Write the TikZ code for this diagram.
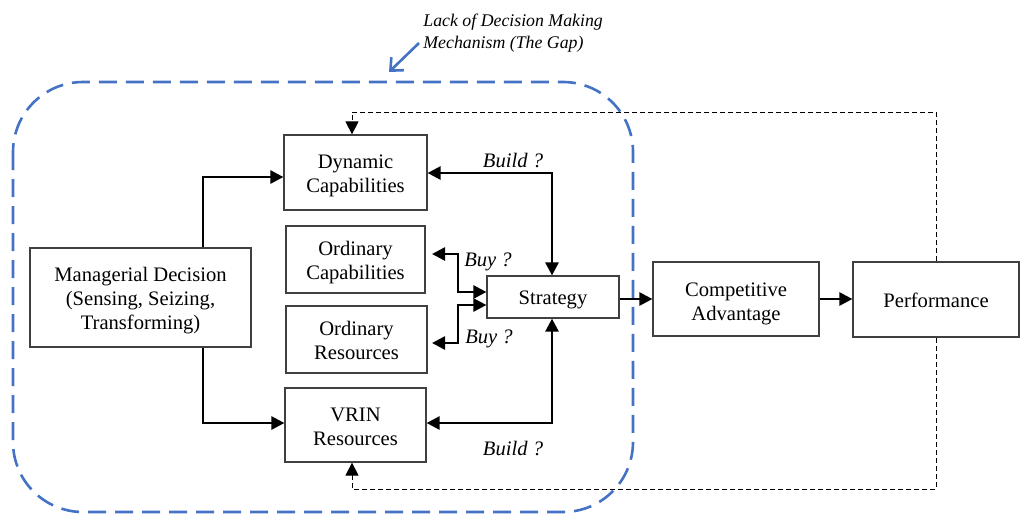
\documentclass[tikz,border=0pt]{standalone}
\usepackage{fontspec}
\setmainfont{Liberation Serif}
\usetikzlibrary{arrows.meta}
\definecolor{gapblue}{HTML}{4472C4}
\definecolor{boxgray}{HTML}{404040}
\newcommand\boxtext[2][1.5pt]{\raisebox{-#1}[\height][\depth]{\begin{tabular}{@{}c@{}}#2\end{tabular}}}
\begin{document}
\begin{tikzpicture}[x=0.5pt,y=-0.5pt,
 box/.style={draw=boxgray, line width=0.6pt, inner sep=0pt, font=\fontsize{10.3}{12}\selectfont},
 tip/.tip={Triangle[length=6.5pt,width=6.5pt]},
 conn/.style={line width=1.3pt, -tip},
 biconn/.style={line width=1.3pt, tip-tip},
 fb/.style={line width=0.5pt, dash pattern=on 2.5pt off 1.5pt, -{Triangle[length=6.5pt,width=6.5pt]}},
 lbl/.style={font=\fontsize{10.3}{12}\selectfont\itshape, inner sep=0pt},
 gaptxt/.style={font=\fontsize{8.9}{10.8}\selectfont\itshape, align=left, inner sep=0pt}]
\useasboundingbox (0,0) rectangle (1020,515);

% gap region
\draw[gapblue, line width=1.3pt, dash pattern=on 9pt off 4.5pt, rounded corners=35pt] (13,82) rectangle (633,512);
\node[gaptxt, anchor=west] (gaptext) at (423,33) {Lack of Decision Making\\Mechanism (The Gap)};
\coordinate (g1) at (419,43);
\coordinate (g2) at (389,72);
\draw[gapblue, line width=1.3pt, -{Straight Barb[length=5pt,width=9pt]}] (g1) -- (g2);

% boxes
\node[box, minimum width=110.5pt, minimum height=49.5pt] (mgr) at (140.5,297.5) {\boxtext{Managerial Decision\\(Sensing, Seizing,\\Transforming)}};
\node[box, minimum width=71.5pt, minimum height=37.5pt] (dyn) at (355.5,172.5) {\boxtext{Dynamic\\Capabilities}};
\node[box, minimum width=69.5pt, minimum height=33.5pt] (ocap) at (355.5,259.5) {\boxtext{Ordinary\\Capabilities}};
\node[box, minimum width=70.5pt, minimum height=33.5pt] (ores) at (356.5,339.5) {\boxtext[1.6pt]{Ordinary\\Resources}};
\node[box, minimum width=70.5pt, minimum height=37pt] (vrin) at (355.5,425) {\boxtext[1.75pt]{VRIN\\Resources}};
\node[box, minimum width=66pt, minimum height=21pt] (str) at (553,297) {\boxtext{Strategy}};
\node[box, minimum width=83pt, minimum height=37pt] (comp) at (736,299) {\boxtext[2.2pt]{Competitive\\Advantage}};
\node[box, minimum width=83pt, minimum height=37.5pt] (perf) at (936,299.5) {\boxtext[1.5pt]{Performance}};

% managerial decision connectors
\coordinate (m1) at (203,177);
\coordinate (m2) at (203,423);
\draw[conn] (mgr.north -| m1) |- (dyn.west |- m1);
\draw[conn] (mgr.south -| m2) |- (vrin.west |- m2);

% build connectors
\coordinate (s1) at (552,173);
\coordinate (s2) at (552,423);
\draw[biconn] (dyn.east |- s1) -| (str.north -| s1);
\draw[biconn] (str.south -| s2) |- (vrin.east |- s2);
\node[lbl] (build1) at (513,160) {Build ?};
\node[lbl] (build2) at (513,448) {Build ?};

% buy connectors
\coordinate (b1) at (432,254);
\coordinate (b2) at (458,292);
\coordinate (b3) at (432,343);
\coordinate (b4) at (458,305);
\draw[biconn] (b1) -| (b2) -- (str.west |- b2);
\draw[biconn] (b3) -| (b4) -- (str.west |- b4);
\node[lbl] (buy1) at (488,262) {Buy ?};
\node[lbl] (buy2) at (489,339) {Buy ?};

% chain to performance
\draw[conn] (str.east |- comp.west) -- (comp.west);
\draw[conn] (comp.east) -- (perf.west |- comp.east);

% feedback
\coordinate (f1) at (352,112);
\coordinate (f2) at (352,489);
\draw[fb] (perf.north) |- (f1) -- (dyn.north -| f1);
\draw[fb] (perf.south) |- (f2) -- (vrin.south -| f2);
\end{tikzpicture}
\end{document}
